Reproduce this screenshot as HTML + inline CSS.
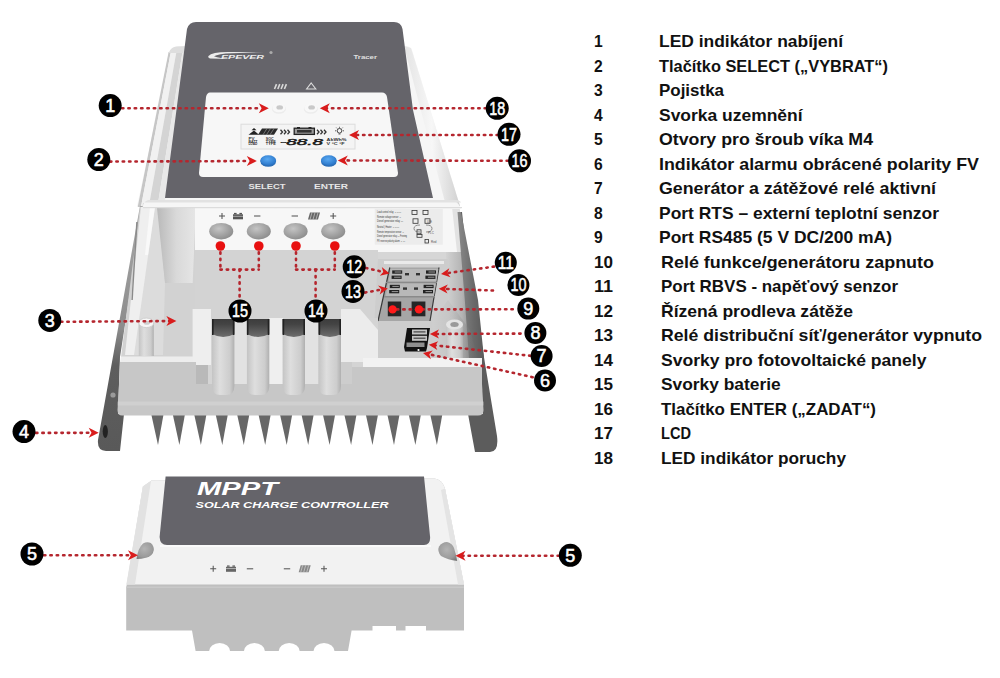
<!DOCTYPE html>
<html><head><meta charset="utf-8"><style>
html,body{margin:0;padding:0;background:#fff;width:1000px;height:678px;overflow:hidden}
svg{display:block}
text{font-family:"Liberation Sans",sans-serif}
.li{font-family:"Liberation Sans",sans-serif;font-weight:bold;font-size:17px;fill:#111}
</style></head><body>
<svg width="1000" height="678" viewBox="0 0 1000 678">
<defs>
<linearGradient id="gShellL" x1="0" y1="0" x2="1" y2="0">
 <stop offset="0" stop-color="#d0d0d0"/><stop offset="0.3" stop-color="#e6e6e6"/><stop offset="0.6" stop-color="#d2d2d2"/><stop offset="0.85" stop-color="#efefef"/><stop offset="1" stop-color="#e2e2e2"/></linearGradient>
<linearGradient id="gShellR" x1="0" y1="0" x2="1" y2="0">
 <stop offset="0" stop-color="#e4e4e4"/><stop offset="0.5" stop-color="#f7f7f7"/><stop offset="1" stop-color="#d0d0d0"/></linearGradient>
<linearGradient id="gBack" x1="0" y1="0" x2="1" y2="0">
 <stop offset="0" stop-color="#b9b9b9"/><stop offset="0.5" stop-color="#d9d9d9"/><stop offset="1" stop-color="#e6e6e6"/></linearGradient>
<linearGradient id="gBrkL" x1="0" y1="0" x2="0" y2="1">
 <stop offset="0" stop-color="#a8a8a8"/><stop offset="0.5" stop-color="#8c8c8c"/><stop offset="0.65" stop-color="#5e5e5e"/><stop offset="1" stop-color="#595959"/></linearGradient>
<radialGradient id="gHole" cx="0.4" cy="0.35" r="0.7">
 <stop offset="0" stop-color="#c4c4c4"/><stop offset="1" stop-color="#8a8a8a"/></radialGradient>
<linearGradient id="gTube" x1="0" y1="0" x2="1" y2="0">
 <stop offset="0" stop-color="#c4c4c4"/><stop offset="0.35" stop-color="#dedede"/><stop offset="0.8" stop-color="#cdcdcd"/><stop offset="1" stop-color="#b0b0b0"/></linearGradient>
<linearGradient id="gDarkStrip" x1="0" y1="0" x2="1" y2="0">
 <stop offset="0" stop-color="#8a8a8a"/><stop offset="0.6" stop-color="#6a6a6a"/><stop offset="1" stop-color="#5a5a5a"/></linearGradient>
<linearGradient id="gOpen" x1="0" y1="0" x2="0" y2="1">
 <stop offset="0" stop-color="#3c3c3c"/><stop offset="0.3" stop-color="#444"/><stop offset="1" stop-color="#6e6e6e"/></linearGradient>
<linearGradient id="gRside" x1="0" y1="0" x2="1" y2="0">
 <stop offset="0" stop-color="#d2d2d2"/><stop offset="0.45" stop-color="#b4b4b4"/><stop offset="0.75" stop-color="#858585"/><stop offset="1" stop-color="#666"/></linearGradient>
<radialGradient id="gBtn" cx="0.45" cy="0.4" r="0.6">
 <stop offset="0" stop-color="#59a9f2"/><stop offset="1" stop-color="#2a76c9"/></radialGradient>
<radialGradient id="gLed" cx="0.5" cy="0.5" r="0.6">
 <stop offset="0" stop-color="#cfcfcf"/><stop offset="0.5" stop-color="#f2f2f2"/><stop offset="1" stop-color="#e2e2e2"/></radialGradient>
<linearGradient id="gCovL" x1="0" y1="0" x2="1" y2="0">
 <stop offset="0" stop-color="#d4d4d4"/><stop offset="1" stop-color="#eeeeee"/></linearGradient>
<radialGradient id="gCovHole" cx="0.45" cy="0.4" r="0.7">
 <stop offset="0" stop-color="#b4b4b4"/><stop offset="0.7" stop-color="#9a9a9a"/><stop offset="1" stop-color="#777"/></radialGradient>
</defs>
<path d="M170,52 Q172,46 178,46 L406,46 Q410,46 412,50 L460,206 L137,206 Z" fill="#f6f6f6"/>
<polygon points="168.6,52 170.8,52 140.9,207 137.7,207" fill="#c6c6c6"/>
<polygon points="170.8,52 176.4,52 148.7,207 140.9,207" fill="#f1f1f1"/>
<polygon points="176.4,52 182.5,52 157.4,207 148.7,207" fill="#d4d4d4"/>
<polygon points="182.5,52 187.1,52 164.0,207 157.4,207" fill="#e8e8e8"/>
<path d="M168.6,53 Q171,46.5 177,46.5 L188,46 L187.6,53 Z" fill="#dedede"/>
<polygon points="404,46 411,48 460,206 446,206" fill="url(#gShellR)"/>
<path d="M140,206 L98,440 Q97,451 106,451 L120,451 L124,414 L118,414 L120,357 L143.5,206 Z" fill="url(#gBrkL)"/>
<path d="M460,212 L497,436 Q499,452 490,452 L475,452 L468,414 L483,414 L462,212 Z" fill="#5c5c5c"/>
<ellipse cx="105.3" cy="431.5" rx="2.6" ry="6.5" fill="#222"/>
<ellipse cx="113" cy="395" rx="2.6" ry="2.6" fill="#9a9a9a"/>
<polygon points="151.2,414 163.6,414 158.0,445" fill="#676767"/>
<polygon points="172.7,414 185.0,414 179.4,445" fill="#676767"/>
<polygon points="194.1,414 206.5,414 200.9,445" fill="#676767"/>
<polygon points="215.6,414 227.9,414 222.3,445" fill="#676767"/>
<polygon points="237.0,414 249.4,414 243.8,445" fill="#676767"/>
<polygon points="258.4,414 270.8,414 265.2,445" fill="#676767"/>
<polygon points="279.9,414 292.3,414 286.7,445" fill="#676767"/>
<polygon points="301.4,414 313.8,414 308.2,445" fill="#676767"/>
<polygon points="322.8,414 335.2,414 329.6,445" fill="#676767"/>
<polygon points="344.2,414 356.6,414 351.1,445" fill="#676767"/>
<polygon points="365.7,414 378.1,414 372.5,445" fill="#676767"/>
<polygon points="387.2,414 399.6,414 394.0,445" fill="#676767"/>
<polygon points="408.6,414 421.0,414 415.4,445" fill="#676767"/>
<polygon points="430.1,414 442.4,414 436.9,445" fill="#676767"/>
<polygon points="143,203 459,204 483,414 118,414" fill="#d8d8d8"/>
<polygon points="140,207 196,207 196,357 121,357" fill="#d2d2d2"/>
<polygon points="155,207 158,207 165,283 163,355 133,355" fill="#dcdcdc"/>
<polygon points="157,208 195.8,208 192.7,283 165,283" fill="url(#gBack)"/>
<polygon points="141,207 155,207 134,355 125,355" fill="#efefef"/>
<polygon points="150,207 155,207 148,255 145,255" fill="#f9f9f9"/>
<polygon points="136.2,222 137.6,222 132.8,300 131.4,300" fill="#8a8a8a"/>
<rect x="138.8" y="323" width="15" height="33" fill="url(#gTube)"/>
<ellipse cx="146.3" cy="322.8" rx="7.5" ry="4.8" fill="#f6f6f6" stroke="#d0d0d0" stroke-width="1"/>
<ellipse cx="146.8" cy="322.8" rx="3.2" ry="2" fill="#cfcfcf"/>
<polygon points="195,207 458,207 463,252 195,252" fill="#f7f7f7"/>
<polygon points="452,207 458,207 463,252 457,252" fill="#e2e2e2"/>
<rect x="195" y="250" width="183" height="72" fill="#d3d3d3"/>
<polygon points="378,252 463,252 482,358 378,358" fill="#d6d6d6"/>
<polygon points="446,252 463,252 478,330 482,360 449,360" fill="url(#gRside)"/>
<polygon points="457.5,212 461,212 478,300 484,358 469,358 464.8,300" fill="url(#gDarkStrip)"/>
<polygon points="378,259 448,259 448,360 372,360" fill="#cdcdcd"/>
<rect x="384" y="261" width="60" height="3" fill="#eaeaea"/>
<polygon points="389.8,267.5 439,267.5 430,321 378,321" fill="#a6a6a6"/>
<path d="M389.8,267.5 L378,321 M439,267.5 L430,321" stroke="#3a3a3a" stroke-width="1.2"/>
<polygon points="390.5,268.9 438.4,268.9 436.4,281.7 388.6,281.7" fill="#b8b8b8"/>
<polygon points="388,283.2 436,283.2 434,296 385.8,296" fill="#b8b8b8"/>
<rect x="386" y="281.7" width="51" height="1.5" fill="#8a8a8a"/><rect x="384" y="296" width="51" height="1.5" fill="#8a8a8a"/>
<rect x="392.2" y="270.4" width="10" height="3.3" fill="#222"/><rect x="394.7" y="271.5" width="6.5" height="1" fill="#999"/>
<rect x="391.6" y="275.6" width="10" height="3.3" fill="#222"/><rect x="394.1" y="276.70000000000005" width="6.5" height="1" fill="#999"/>
<rect x="426" y="270.4" width="10" height="3.3" fill="#222"/><rect x="428.5" y="271.5" width="6.5" height="1" fill="#999"/>
<rect x="425.4" y="275.6" width="10" height="3.3" fill="#222"/><rect x="427.9" y="276.70000000000005" width="6.5" height="1" fill="#999"/>
<rect x="389.8" y="284.8" width="10" height="3.3" fill="#222"/><rect x="392.3" y="285.90000000000003" width="6.5" height="1" fill="#999"/>
<rect x="389.2" y="290" width="10" height="3.3" fill="#222"/><rect x="391.7" y="291.1" width="6.5" height="1" fill="#999"/>
<rect x="423.6" y="284.8" width="10" height="3.3" fill="#222"/><rect x="426.1" y="285.90000000000003" width="6.5" height="1" fill="#999"/>
<rect x="423" y="290" width="10" height="3.3" fill="#222"/><rect x="425.5" y="291.1" width="6.5" height="1" fill="#999"/>
<rect x="405" y="273" width="4" height="2.4" fill="#333"/>
<rect x="416" y="273" width="4" height="2.4" fill="#333"/>
<rect x="403" y="287.4" width="4" height="2.4" fill="#333"/>
<rect x="414" y="287.4" width="4" height="2.4" fill="#333"/>
<rect x="387.8" y="301.5" width="13.4" height="14.8" fill="#262626"/>
<rect x="411.6" y="301.5" width="13.8" height="14.8" fill="#262626"/>
<path d="M407,328 L430,328 L427,348 L426,351.5 L405,351.5 L404,347 Z" fill="#111"/>
<rect x="412" y="329.5" width="15" height="5" fill="#c4c4c4"/><rect x="412" y="335.8" width="15" height="5" fill="#c4c4c4"/>
<rect x="413.5" y="331.3" width="12" height="1.2" fill="#444"/><rect x="413.5" y="337.6" width="12" height="1.2" fill="#444"/>
<rect x="406.5" y="342.5" width="18" height="4.5" fill="#8e8e8e"/>
<circle cx="418.5" cy="350" r="1.1" fill="#fff"/>
<polygon points="432,322 448,300 470,330 478,360 436,360" fill="url(#gRside)" opacity="0.35"/>
<rect x="446" y="325" width="17" height="38" fill="url(#gTube)"/>
<ellipse cx="454.5" cy="324.5" rx="8.5" ry="5" fill="#e4e4e4"/>
<ellipse cx="454.5" cy="324.5" rx="4.2" ry="2.5" fill="#9a9a9a"/>
<rect x="374.8" y="208.5" width="68" height="36.2" fill="#ececec"/>
<text x="377" y="213.2" font-size="3.4" fill="#333" textLength="24" lengthAdjust="spacingAndGlyphs">Load control relay → ——</text>
<rect x="412" y="210.5" width="5" height="4" fill="none" stroke="#333" stroke-width="0.8"/>
<rect x="423" y="210.5" width="5" height="4" fill="none" stroke="#333" stroke-width="0.8"/>
<text x="377" y="217.6" font-size="3.4" fill="#333" textLength="24" lengthAdjust="spacingAndGlyphs">Remote voltage sensor →</text>
<text x="377" y="222.0" font-size="3.4" fill="#333" textLength="26" lengthAdjust="spacingAndGlyphs">Diesel generator relay  —</text>
<rect x="413" y="218.8" width="5" height="4.5" fill="none" stroke="#333" stroke-width="0.8"/>
<rect x="425" y="218.8" width="5" height="4.5" fill="none" stroke="#333" stroke-width="0.8"/>
<text x="377" y="227.6" font-size="3.4" fill="#333" textLength="22" lengthAdjust="spacingAndGlyphs">Neutral | Heater → ——</text>
<text x="377" y="233.4" font-size="3.4" fill="#333" textLength="27" lengthAdjust="spacingAndGlyphs">Remote temperature sensor →</text>
<rect x="417" y="229.8" width="4" height="4" fill="none" stroke="#333" stroke-width="0.8"/>
<text x="377" y="237.4" font-size="3.4" fill="#333" textLength="30" lengthAdjust="spacingAndGlyphs">Diesel generator relay — Freeing</text>
<rect x="417" y="234.5" width="5" height="2.8" fill="none" stroke="#333" stroke-width="0.8"/>
<text x="377" y="242.4" font-size="3.4" fill="#333" textLength="28" lengthAdjust="spacingAndGlyphs">PV reverse polarity alarm → —</text>
<rect x="425" y="239.5" width="3.5" height="3.5" fill="none" stroke="#333" stroke-width="0.8"/>
<path d="M420,225 Q414,225 414,228.5 Q414,232 420,232 M426,225 Q432,225 432,228.5 Q432,232 426,232" fill="none" stroke="#666" stroke-width="0.7"/>
<text x="427" y="222.6" font-size="3" fill="#555">UIE</text><text x="428" y="233.6" font-size="3" fill="#555">PLC</text><text x="431" y="242.6" font-size="3" fill="#555">Red</text>
<rect x="195" y="318" width="183" height="70" fill="#d4d4d4"/>
<rect x="192.6" y="309" width="18.4" height="56" fill="#eeeeee"/>
<polygon points="192.6,365 208,365 208,384 196,384" fill="#b9b9b9"/>
<rect x="234" y="318" width="13" height="66" fill="#e2e2e2"/>
<rect x="269" y="318" width="14" height="66" fill="#efefef"/>
<rect x="305" y="318" width="13" height="66" fill="#e2e2e2"/>
<polygon points="341,309 360,309 378,330 378,362 352,362 352,384 341,384" fill="#ececec"/>
<polygon points="341,362 352,362 352,384 341,384" fill="#cdcdcd"/>
<polygon points="121,356.5 193,356.5 193,362.5 120,362.5" fill="#ededed"/>
<polygon points="120,362 196,362 196,384 119,384" fill="#c7c7c7"/>
<polygon points="363,358 482,358 482,367 363,367" fill="#f2f2f2"/>
<polygon points="352,367 482,367 482,384 352,384" fill="#c7c7c7"/>
<path d="M119,384 L482,384 L483.5,410 Q483.5,415.5 478,415.5 L122,415.5 Q117.5,415.5 117.5,410 Z" fill="#c7c7c7"/>
<rect x="117.8" y="401.5" width="365.5" height="4" fill="#d0d0d0"/>
<path d="M212.0,319 L234.39999999999998,319 L234.39999999999998,386 Q234.39999999999998,395 226.2,395 L220.2,395 Q212.0,395 212.0,386 Z" fill="url(#gTube)"/>
<path d="M212.0,319 L234.39999999999998,319 L234.39999999999998,334 Q223.2,340 212.0,334 Z" fill="url(#gOpen)"/>
<rect x="212.0" y="319" width="1.6" height="16" fill="#222"/><rect x="232.79999999999998" y="319" width="1.6" height="16" fill="#222"/>
<path d="M246.90000000000003,319 L269.3,319 L269.3,386 Q269.3,395 261.1,395 L255.10000000000002,395 Q246.90000000000003,395 246.90000000000003,386 Z" fill="url(#gTube)"/>
<path d="M246.90000000000003,319 L269.3,319 L269.3,334 Q258.1,340 246.90000000000003,334 Z" fill="url(#gOpen)"/>
<rect x="246.90000000000003" y="319" width="1.6" height="16" fill="#222"/><rect x="267.70000000000005" y="319" width="1.6" height="16" fill="#222"/>
<path d="M282.6,319 L305.0,319 L305.0,386 Q305.0,395 296.8,395 L290.8,395 Q282.6,395 282.6,386 Z" fill="url(#gTube)"/>
<path d="M282.6,319 L305.0,319 L305.0,334 Q293.8,340 282.6,334 Z" fill="url(#gOpen)"/>
<rect x="282.6" y="319" width="1.6" height="16" fill="#222"/><rect x="303.40000000000003" y="319" width="1.6" height="16" fill="#222"/>
<path d="M318.6,319 L341.0,319 L341.0,386 Q341.0,395 332.8,395 L326.8,395 Q318.6,395 318.6,386 Z" fill="url(#gTube)"/>
<path d="M318.6,319 L341.0,319 L341.0,334 Q329.8,340 318.6,334 Z" fill="url(#gOpen)"/>
<rect x="318.6" y="319" width="1.6" height="16" fill="#222"/><rect x="339.40000000000003" y="319" width="1.6" height="16" fill="#222"/>
<path d="M148,200 L452,200 Q458,201 461,209 L143,207.5 Q143,201 148,200 Z" fill="#f6f6f6"/>
<path d="M148,200 L456,200 Q460,200.5 461,202.5 L144.5,202.5 Q145.5,200.5 148,200 Z" fill="#e2e2e2"/>
<rect x="143" y="207" width="319" height="1.2" fill="#dcdcdc"/>
<ellipse cx="221.2" cy="231.2" rx="12" ry="8.3" fill="url(#gHole)"/>
<ellipse cx="258.8" cy="231.2" rx="12" ry="8.3" fill="url(#gHole)"/>
<ellipse cx="295.6" cy="231.2" rx="12" ry="8.3" fill="url(#gHole)"/>
<ellipse cx="333.2" cy="231.2" rx="12" ry="8.3" fill="url(#gHole)"/>
<path d="M219,216 H225 M222,213 V219" stroke="#555" stroke-width="1.05"/>
<rect x="233" y="214.3" width="10" height="5" fill="#555"/><rect x="234" y="212.9" width="2.6" height="1.4" fill="#555"/><rect x="239.4" y="212.9" width="2.6" height="1.4" fill="#555"/><rect x="233" y="215.9" width="10" height="0.6" fill="#ddd"/>
<path d="M254.0,216 H260.4" stroke="#555" stroke-width="1.05"/>
<path d="M291.6,216 H298.0" stroke="#555" stroke-width="1.05"/>
<polygon points="310,212.5 320,212.5 318,219.5 308,219.5" fill="#666"/><path d="M312,212.5 L310,219.5 M315,212.5 L313,219.5 M318,212.5 L316,219.5" stroke="#ddd" stroke-width="0.6"/>
<path d="M330.2,216 H336.2 M333.2,213 V219" stroke="#555" stroke-width="1.05"/>
<path d="M196,22 L394,22 Q401,22 402.5,29 L413,110 L433,198 L165,198 L187,29 Q189,22 196,22 Z" fill="#65646a"/>
<path d="M208.5,56 Q212,51.5 232,52 L264,52.3 L232,53.2 Q218,53.6 214,56.3 Q219,58.6 232,59 L210,58.6 Q207.5,57.5 208.5,56 Z" fill="#ececec"/>
<text x="221" y="58.6" font-weight="bold" font-style="italic" font-size="5" fill="#ececec" textLength="43" lengthAdjust="spacingAndGlyphs">EPEVER</text>
<circle cx="271" cy="52.5" r="1.6" fill="#aaa"/>
<text x="353.5" y="59" font-weight="bold" font-size="6" fill="#e0e0e0" textLength="23.5" lengthAdjust="spacingAndGlyphs">Tracer</text>
<path d="M274.5,89 L276.5,84.1 M277.8,89 L279.8,84.1 M281.1,89 L283.1,84.1 M284.4,89 L286.4,84.1" stroke="#d8d8d8" stroke-width="1.6"/>
<path d="M311.2,83 L315.8,89 L306.6,89 Z" fill="none" stroke="#dcdcdc" stroke-width="1.1"/>
<path d="M210,92.5 L382,92.5 Q386,92.5 387,97 L398,173 Q398,177 394,177 L203,177 Q199,177 199,173 L206,97 Q207,92.5 210,92.5 Z" fill="#f7f7f7"/>
<ellipse cx="278.9" cy="109" rx="7" ry="4.8" fill="#ececec"/>
<ellipse cx="278.9" cy="108" rx="6.5" ry="4.2" fill="#f8f8f8"/>
<ellipse cx="279.7" cy="107.4" rx="3.3" ry="2.2" fill="#c9c9c9"/>
<ellipse cx="310.8" cy="109" rx="7" ry="4.8" fill="#ececec"/>
<ellipse cx="310.8" cy="108" rx="6.5" ry="4.2" fill="#f8f8f8"/>
<ellipse cx="311.6" cy="107.4" rx="3.3" ry="2.2" fill="#c9c9c9"/>
<rect x="241" y="124.2" width="114" height="24.8" fill="#f4f4f4" stroke="#dcdcdc" stroke-width="1"/>
<polygon points="248.5,134.7 254,130.6 259,134.7" fill="#222"/><polygon points="251.5,130.2 254,128 256.5,130.2" fill="#222"/>
<polygon points="262,128.5 278,128.5 274,134.7 258,134.7" fill="#2a2a2a"/>
<path d="M263,134.7 L267,128.5 M266.5,134.7 L270.5,128.5 M270,134.7 L274,128.5" stroke="#bbb" stroke-width="0.5"/>
<path d="M280.5,129.8 L282.5,132 L280.5,134.2 M284.0,129.8 L286.0,132 L284.0,134.2 M287.5,129.8 L289.5,132 L287.5,134.2" fill="none" stroke="#333" stroke-width="1.3"/>
<path d="M317,129.8 L319,132 L317,134.2 M320.5,129.8 L322.5,132 L320.5,134.2 M324,129.8 L326,132 L324,134.2" fill="none" stroke="#333" stroke-width="1.3"/>
<rect x="294.2" y="128.2" width="20.2" height="6.2" fill="#9a9a9a" stroke="#222" stroke-width="1.3"/>
<rect x="297" y="130" width="14.6" height="2.6" fill="#333"/>
<rect x="297" y="127" width="3" height="1.5" fill="#222"/><rect x="308.5" y="127" width="3" height="1.5" fill="#222"/>
<circle cx="339.5" cy="130.8" r="2.3" fill="none" stroke="#333" stroke-width="0.9"/>
<path d="M339.5,126.8 V127.8 M335,130.8 H336.2 M342.8,130.8 H344 M336.3,127.6 L337.1,128.4 M342.7,127.6 L341.9,128.4 M338.5,134 H340.5" stroke="#333" stroke-width="0.8"/>
<text x="248.4" y="140.3" font-size="3" font-weight="bold" fill="#333" textLength="6" lengthAdjust="spacingAndGlyphs">PV</text>
<text x="248.4" y="142.6" font-size="3" font-weight="bold" fill="#333" textLength="9" lengthAdjust="spacingAndGlyphs">BATT</text>
<text x="248.4" y="144.9" font-size="3" font-weight="bold" fill="#333" textLength="9" lengthAdjust="spacingAndGlyphs">LOAD</text>
<text x="265.8" y="140.3" font-size="3" font-weight="bold" fill="#333" textLength="8" lengthAdjust="spacingAndGlyphs">SOC</text>
<text x="265.8" y="142.6" font-size="3" font-weight="bold" fill="#333" textLength="10" lengthAdjust="spacingAndGlyphs">TYPE</text>
<text x="265.8" y="144.9" font-size="3" font-weight="bold" fill="#333" textLength="10" lengthAdjust="spacingAndGlyphs">TYPE</text>
<text x="280" y="145" font-style="italic" font-size="9.2" fill="#1a1a1a" stroke="#1a1a1a" stroke-width="0.45" textLength="43" lengthAdjust="spacingAndGlyphs">-88.8</text>
<text x="326.6" y="141.3" font-size="3.4" font-weight="bold" fill="#333" textLength="20" lengthAdjust="spacingAndGlyphs">AkWh%</text>
<text x="326.6" y="145" font-size="3.4" font-weight="bold" fill="#333" textLength="18" lengthAdjust="spacingAndGlyphs">V °C °F</text>
<ellipse cx="268.2" cy="161.4" rx="7.8" ry="5.4" fill="#2c6fb8"/>
<ellipse cx="268.2" cy="160.2" rx="7.8" ry="5" fill="url(#gBtn)"/>
<ellipse cx="328.8" cy="161.4" rx="7.8" ry="5.4" fill="#2c6fb8"/>
<ellipse cx="328.8" cy="160.2" rx="7.8" ry="5" fill="url(#gBtn)"/>
<text x="267" y="188.5" text-anchor="middle" font-weight="bold" font-size="6.5" fill="#e6e6e6" textLength="37" lengthAdjust="spacingAndGlyphs">SELECT</text>
<text x="331" y="188.5" text-anchor="middle" font-weight="bold" font-size="6.5" fill="#e6e6e6" textLength="34" lengthAdjust="spacingAndGlyphs">ENTER</text>
<path d="M152,480.3 L434.5,478.5 Q442,479.5 445,488.6 L464,584.5 L464,630.5 L426,630.5 L426,626 L405.5,626 L405.5,630.5 L396,630.5 L396,626 L372.5,626 L372.5,630.5 L351.6,630.5 L348,651 L195.6,651 L192,630.5 L126.2,630.5 L126.2,588 L142.9,486.5 Z" fill="#bfbfbf"/>
<path d="M152,480.3 L434.5,478.5 Q442,479.5 445,488.6 L464,584.5 L126.4,584.5 L142.9,486.5 Z" fill="#f2f2f2"/>
<polygon points="142.9,486.5 152,480.3 151,481 135,584.5 126.4,584.5" fill="#e2e2e2"/>
<polygon points="445,488.6 464,584.5 458,584.5 441,490" fill="#e4e4e4"/>
<rect x="126.3" y="586.5" width="337.6" height="1.5" fill="#c9c9c9"/>
<ellipse cx="219.6" cy="651.5" rx="10.6" ry="8.6" fill="#fff"/>
<ellipse cx="254.4" cy="651.5" rx="10.6" ry="8.6" fill="#fff"/>
<ellipse cx="289.2" cy="651.5" rx="10.6" ry="8.6" fill="#fff"/>
<ellipse cx="324" cy="651.5" rx="10.6" ry="8.6" fill="#fff"/>
<path d="M165.6,476.5 L424,476.5 L430,536 Q431,545 424,545 L167,545 Q160,545 159.6,537 Z" fill="#65646a"/>
<rect x="160" y="545" width="271" height="2" fill="#fafafa"/>
<text x="197" y="494.5" font-weight="bold" font-style="italic" font-size="18" fill="#fff" textLength="81" lengthAdjust="spacingAndGlyphs">MPPT</text>
<text x="195.5" y="508" font-weight="bold" font-style="italic" font-size="9.4" fill="#fff" textLength="193" lengthAdjust="spacingAndGlyphs">SOLAR CHARGE CONTROLLER</text>
<path d="M136.5,559 Q138,548 143,543.5 Q147,541.2 150.8,543 Q154,546 153.8,550 Q153,555.5 147,557.5 Q141,559 136.5,559 Z" fill="url(#gCovHole)"/>
<path d="M457.2,561 Q448,560 441,556 Q437,551 439,546.5 Q442,542 447,542 Q452,543 454,548 Q456,554 457.2,561 Z" fill="url(#gCovHole)"/>
<path d="M210.2,568.8 H216.2 M213.2,565.8 V571.8" stroke="#555" stroke-width="1.05"/>
<rect x="226" y="566.8" width="10" height="5" fill="#666"/><rect x="227" y="565.4" width="2.6" height="1.4" fill="#666"/><rect x="232.4" y="565.4" width="2.6" height="1.4" fill="#666"/><rect x="226" y="568.4" width="10" height="0.6" fill="#ddd"/>
<path d="M246.8,568.8 H253.2" stroke="#555" stroke-width="1.05"/>
<path d="M283.8,568.8 H290.2" stroke="#555" stroke-width="1.05"/>
<polygon points="300.7,565.3 310.7,565.3 308.7,572.3 298.7,572.3" fill="#888"/><path d="M302.7,565.3 L300.7,572.3 M305.7,565.3 L303.7,572.3 M308.7,565.3 L306.7,572.3" stroke="#ddd" stroke-width="0.6"/>
<path d="M321,568.8 H327 M324,565.8 V571.8" stroke="#555" stroke-width="1.05"/>
<line x1="122" y1="108.2" x2="261.6" y2="108.2" stroke="#b5262e" stroke-width="2.6" stroke-linecap="round" stroke-dasharray="1.4,4.96"/>
<polygon points="268.8,108.2 258.8,113.2 261.6,108.2 258.8,103.2" fill="#d91c1c"/>
<line x1="486" y1="108.3" x2="326.99999869671217" y2="108.20433212917973" stroke="#b5262e" stroke-width="2.6" stroke-linecap="round" stroke-dasharray="1.4,4.96"/>
<polygon points="319.8,108.2 329.8,103.2 327.0,108.2 329.8,113.2" fill="#d91c1c"/>
<line x1="498" y1="135" x2="356.2" y2="135.0" stroke="#b5262e" stroke-width="2.6" stroke-linecap="round" stroke-dasharray="1.4,4.96"/>
<polygon points="349.0,135.0 359.0,130.0 356.2,135.0 359.0,140.0" fill="#d91c1c"/>
<line x1="110" y1="161.6" x2="249.60006013778792" y2="161.02942754712075" stroke="#b5262e" stroke-width="2.6" stroke-linecap="round" stroke-dasharray="1.4,4.96"/>
<polygon points="256.8,161.0 246.8,166.0 249.6,161.0 246.8,156.0" fill="#d91c1c"/>
<line x1="508" y1="160.8" x2="344.9999801160999" y2="160.41692122236452" stroke="#b5262e" stroke-width="2.6" stroke-linecap="round" stroke-dasharray="1.4,4.96"/>
<polygon points="337.8,160.4 347.8,155.4 345.0,160.4 347.8,165.4" fill="#d91c1c"/>
<line x1="61" y1="321.8" x2="169.2001730036253" y2="321.0499121455555" stroke="#b5262e" stroke-width="2.6" stroke-linecap="round" stroke-dasharray="1.4,4.96"/>
<polygon points="176.4,321.0 166.4,326.1 169.2,321.0 166.4,316.1" fill="#d91c1c"/>
<line x1="36" y1="432.9" x2="91.50000915728205" y2="432.8114832389836" stroke="#b5262e" stroke-width="2.6" stroke-linecap="round" stroke-dasharray="1.4,4.96"/>
<polygon points="98.7,432.8 88.7,437.8 91.5,432.8 88.7,427.8" fill="#d91c1c"/>
<line x1="44" y1="555.2" x2="130.8" y2="555.2" stroke="#b5262e" stroke-width="2.6" stroke-linecap="round" stroke-dasharray="1.4,4.96"/>
<polygon points="138.0,555.2 128.0,560.2 130.8,555.2 128.0,550.2" fill="#d91c1c"/>
<line x1="559" y1="555.7" x2="462.7" y2="555.7" stroke="#b5262e" stroke-width="2.6" stroke-linecap="round" stroke-dasharray="1.4,4.96"/>
<polygon points="455.5,555.7 465.5,550.7 462.7,555.7 465.5,560.7" fill="#d91c1c"/>
<line x1="366" y1="268" x2="383.28324928225675" y2="271.9546417849231" stroke="#b5262e" stroke-width="2.6" stroke-linecap="round" stroke-dasharray="1.4,4.96"/>
<polygon points="389.6,273.4 379.8,275.8 383.3,272.0 381.8,267.0" fill="#d91c1c"/>
<line x1="365" y1="292.6" x2="381.42722333794285" y2="289.5739325430105" stroke="#b5262e" stroke-width="2.6" stroke-linecap="round" stroke-dasharray="1.4,4.96"/>
<polygon points="387.8,288.4 379.8,294.5 381.4,289.6 378.1,285.6" fill="#d91c1c"/>
<line x1="494" y1="266.6" x2="447.41774661199946" y2="273.10393726549444" stroke="#b5262e" stroke-width="2.6" stroke-linecap="round" stroke-dasharray="1.4,4.96"/>
<polygon points="441.0,274.0 449.3,268.3 447.4,273.1 450.5,277.2" fill="#d91c1c"/>
<line x1="493" y1="290.5" x2="445.17644260068346" y2="288.914688704995" stroke="#b5262e" stroke-width="2.6" stroke-linecap="round" stroke-dasharray="1.4,4.96"/>
<polygon points="438.7,288.7 447.8,284.5 445.2,288.9 447.5,293.5" fill="#d91c1c"/>
<line x1="520.6" y1="333.6" x2="436.3799369849792" y2="333.9714225491291" stroke="#b5262e" stroke-width="2.6" stroke-linecap="round" stroke-dasharray="1.4,4.96"/>
<polygon points="429.9,334.0 438.9,329.5 436.4,334.0 438.9,338.5" fill="#d91c1c"/>
<line x1="530.5" y1="355.8" x2="435.2417448483335" y2="345.4030812961308" stroke="#b5262e" stroke-width="2.6" stroke-linecap="round" stroke-dasharray="1.4,4.96"/>
<polygon points="428.8,344.7 438.2,341.2 435.2,345.4 437.3,350.1" fill="#d91c1c"/>
<line x1="532.7" y1="377.2" x2="429.32664060085347" y2="354.30143451778247" stroke="#b5262e" stroke-width="2.6" stroke-linecap="round" stroke-dasharray="1.4,4.96"/>
<polygon points="423.0,352.9 432.8,350.5 429.3,354.3 430.8,359.2" fill="#d91c1c"/>
<line x1="512.8" y1="309.3" x2="392.6" y2="309.4" stroke="#b5262e" stroke-width="2.6" stroke-linecap="round" stroke-dasharray="1.4,4.96"/>
<circle cx="392.6" cy="309.4" r="4.2" fill="#ff1a1a"/><circle cx="419" cy="309.4" r="4.2" fill="#ff1a1a"/>
<line x1="220.4" y1="246" x2="220.4" y2="269.6" stroke="#b5262e" stroke-width="2.6" stroke-linecap="round" stroke-dasharray="1.4,4.96"/>
<line x1="258.8" y1="246" x2="258.8" y2="269.6" stroke="#b5262e" stroke-width="2.6" stroke-linecap="round" stroke-dasharray="1.4,4.96"/>
<line x1="220.4" y1="269.6" x2="258.8" y2="269.6" stroke="#b5262e" stroke-width="2.6" stroke-linecap="round" stroke-dasharray="1.4,4.96"/>
<line x1="239.6" y1="269.6" x2="239.6" y2="300" stroke="#b5262e" stroke-width="2.6" stroke-linecap="round" stroke-dasharray="1.4,4.96"/>
<circle cx="220.4" cy="246" r="4.8" fill="#e81010"/><circle cx="258.8" cy="246" r="4.8" fill="#e81010"/>
<line x1="296" y1="246" x2="296" y2="269.6" stroke="#b5262e" stroke-width="2.6" stroke-linecap="round" stroke-dasharray="1.4,4.96"/>
<line x1="334.8" y1="246" x2="334.8" y2="269.6" stroke="#b5262e" stroke-width="2.6" stroke-linecap="round" stroke-dasharray="1.4,4.96"/>
<line x1="296" y1="269.6" x2="334.8" y2="269.6" stroke="#b5262e" stroke-width="2.6" stroke-linecap="round" stroke-dasharray="1.4,4.96"/>
<line x1="315.6" y1="269.6" x2="315.6" y2="300" stroke="#b5262e" stroke-width="2.6" stroke-linecap="round" stroke-dasharray="1.4,4.96"/>
<circle cx="296" cy="246" r="4.8" fill="#e81010"/><circle cx="334.8" cy="246" r="4.8" fill="#e81010"/>
<circle cx="110.2" cy="105.6" r="11.5" fill="#000"/>
<text x="110.2" y="111.8" text-anchor="middle" font-family="Liberation Serif" font-size="18" fill="#fff" stroke="#fff" stroke-width="0.55">1</text>
<circle cx="497.2" cy="108.3" r="11.5" fill="#000"/>
<text x="497.2" y="114.5" text-anchor="middle" font-family="Liberation Serif" font-size="18" fill="#fff" stroke="#fff" stroke-width="0.55" textLength="16" lengthAdjust="spacingAndGlyphs">18</text>
<circle cx="509" cy="134.3" r="11.5" fill="#000"/>
<text x="509" y="140.5" text-anchor="middle" font-family="Liberation Serif" font-size="18" fill="#fff" stroke="#fff" stroke-width="0.55" textLength="16" lengthAdjust="spacingAndGlyphs">17</text>
<circle cx="98.8" cy="159.6" r="11.5" fill="#000"/>
<text x="98.8" y="165.79999999999998" text-anchor="middle" font-family="Liberation Serif" font-size="18" fill="#fff" stroke="#fff" stroke-width="0.55">2</text>
<circle cx="519.5" cy="160.8" r="11.5" fill="#000"/>
<text x="519.5" y="167.0" text-anchor="middle" font-family="Liberation Serif" font-size="18" fill="#fff" stroke="#fff" stroke-width="0.55" textLength="16" lengthAdjust="spacingAndGlyphs">16</text>
<circle cx="49.8" cy="320.4" r="11.5" fill="#000"/>
<text x="49.8" y="326.59999999999997" text-anchor="middle" font-family="Liberation Serif" font-size="18" fill="#fff" stroke="#fff" stroke-width="0.55">3</text>
<circle cx="24" cy="431.6" r="11.5" fill="#000"/>
<text x="24" y="437.8" text-anchor="middle" font-family="Liberation Serif" font-size="18" fill="#fff" stroke="#fff" stroke-width="0.55">4</text>
<circle cx="32" cy="554" r="11.5" fill="#000"/>
<text x="32" y="560.2" text-anchor="middle" font-family="Liberation Serif" font-size="18" fill="#fff" stroke="#fff" stroke-width="0.55">5</text>
<circle cx="570.3" cy="555.3" r="11.5" fill="#000"/>
<text x="570.3" y="561.5" text-anchor="middle" font-family="Liberation Serif" font-size="18" fill="#fff" stroke="#fff" stroke-width="0.55">5</text>
<circle cx="240" cy="311" r="11.5" fill="#000"/>
<text x="240" y="317.2" text-anchor="middle" font-family="Liberation Serif" font-size="18" fill="#fff" stroke="#fff" stroke-width="0.55" textLength="16" lengthAdjust="spacingAndGlyphs">15</text>
<circle cx="316" cy="311" r="11.5" fill="#000"/>
<text x="316" y="317.2" text-anchor="middle" font-family="Liberation Serif" font-size="18" fill="#fff" stroke="#fff" stroke-width="0.55" textLength="16" lengthAdjust="spacingAndGlyphs">14</text>
<circle cx="354.2" cy="266.8" r="11.5" fill="#000"/>
<text x="354.2" y="273.0" text-anchor="middle" font-family="Liberation Serif" font-size="18" fill="#fff" stroke="#fff" stroke-width="0.55" textLength="16" lengthAdjust="spacingAndGlyphs">12</text>
<circle cx="353" cy="291.4" r="11.5" fill="#000"/>
<text x="353" y="297.59999999999997" text-anchor="middle" font-family="Liberation Serif" font-size="18" fill="#fff" stroke="#fff" stroke-width="0.55" textLength="16" lengthAdjust="spacingAndGlyphs">13</text>
<circle cx="505.8" cy="262.8" r="11" fill="#000"/>
<text x="505.8" y="269.0" text-anchor="middle" font-family="Liberation Serif" font-size="18" fill="#fff" stroke="#fff" stroke-width="0.55" textLength="16" lengthAdjust="spacingAndGlyphs">11</text>
<circle cx="518.4" cy="285" r="11" fill="#000"/>
<text x="518.4" y="291.2" text-anchor="middle" font-family="Liberation Serif" font-size="18" fill="#fff" stroke="#fff" stroke-width="0.55" textLength="16" lengthAdjust="spacingAndGlyphs">10</text>
<circle cx="528.3" cy="308.6" r="11" fill="#000"/>
<text x="528.3" y="314.8" text-anchor="middle" font-family="Liberation Serif" font-size="18" fill="#fff" stroke="#fff" stroke-width="0.55">9</text>
<circle cx="535.4" cy="333" r="11" fill="#000"/>
<text x="535.4" y="339.2" text-anchor="middle" font-family="Liberation Serif" font-size="18" fill="#fff" stroke="#fff" stroke-width="0.55">8</text>
<circle cx="541.6" cy="356" r="11" fill="#000"/>
<text x="541.6" y="362.2" text-anchor="middle" font-family="Liberation Serif" font-size="18" fill="#fff" stroke="#fff" stroke-width="0.55">7</text>
<circle cx="545" cy="380.5" r="11" fill="#000"/>
<text x="545" y="386.7" text-anchor="middle" font-family="Liberation Serif" font-size="18" fill="#fff" stroke="#fff" stroke-width="0.55">6</text>
<text class="li" x="594" y="47.0" textLength="8.7" lengthAdjust="spacingAndGlyphs">1</text>
<text class="li" x="659" y="47.0" textLength="184.0" lengthAdjust="spacingAndGlyphs">LED indikátor nabíjení</text>
<text class="li" x="594" y="71.5" textLength="8.7" lengthAdjust="spacingAndGlyphs">2</text>
<text class="li" x="659" y="71.5" textLength="229.0" lengthAdjust="spacingAndGlyphs">Tlačítko SELECT („VYBRAT“)</text>
<text class="li" x="594" y="96.0" textLength="8.7" lengthAdjust="spacingAndGlyphs">3</text>
<text class="li" x="659" y="96.0" textLength="65.0" lengthAdjust="spacingAndGlyphs">Pojistka</text>
<text class="li" x="594" y="120.5" textLength="8.7" lengthAdjust="spacingAndGlyphs">4</text>
<text class="li" x="659" y="120.5" textLength="143.6" lengthAdjust="spacingAndGlyphs">Svorka uzemnění</text>
<text class="li" x="594" y="145.0" textLength="8.7" lengthAdjust="spacingAndGlyphs">5</text>
<text class="li" x="659" y="145.0" textLength="214.0" lengthAdjust="spacingAndGlyphs">Otvory pro šroub víka M4</text>
<text class="li" x="594" y="169.5" textLength="8.7" lengthAdjust="spacingAndGlyphs">6</text>
<text class="li" x="659" y="169.5" textLength="320.0" lengthAdjust="spacingAndGlyphs">Indikátor alarmu obrácené polarity FV</text>
<text class="li" x="594" y="194.0" textLength="8.7" lengthAdjust="spacingAndGlyphs">7</text>
<text class="li" x="659" y="194.0" textLength="277.0" lengthAdjust="spacingAndGlyphs">Generátor a zátěžové relé aktivní</text>
<text class="li" x="594" y="218.5" textLength="8.7" lengthAdjust="spacingAndGlyphs">8</text>
<text class="li" x="659" y="218.5" textLength="280.0" lengthAdjust="spacingAndGlyphs">Port RTS – externí teplotní senzor</text>
<text class="li" x="594" y="243.0" textLength="8.7" lengthAdjust="spacingAndGlyphs">9</text>
<text class="li" x="659" y="243.0" textLength="233.0" lengthAdjust="spacingAndGlyphs">Port RS485 (5 V DC/200 mA)</text>
<text class="li" x="594" y="267.5" textLength="19" lengthAdjust="spacingAndGlyphs">10</text>
<text class="li" x="661" y="267.5" textLength="273.0" lengthAdjust="spacingAndGlyphs">Relé funkce/generátoru zapnuto</text>
<text class="li" x="594" y="292.0" textLength="19" lengthAdjust="spacingAndGlyphs">11</text>
<text class="li" x="661" y="292.0" textLength="237.0" lengthAdjust="spacingAndGlyphs">Port RBVS - napěťový senzor</text>
<text class="li" x="594" y="316.5" textLength="19" lengthAdjust="spacingAndGlyphs">12</text>
<text class="li" x="661" y="316.5" textLength="192.0" lengthAdjust="spacingAndGlyphs">Řízená prodleva zátěže</text>
<text class="li" x="594" y="341.0" textLength="19" lengthAdjust="spacingAndGlyphs">13</text>
<text class="li" x="661" y="341.0" textLength="321.0" lengthAdjust="spacingAndGlyphs">Relé distribuční síť/generátor vypnuto</text>
<text class="li" x="594" y="365.5" textLength="19" lengthAdjust="spacingAndGlyphs">14</text>
<text class="li" x="661" y="365.5" textLength="265.5" lengthAdjust="spacingAndGlyphs">Svorky pro fotovoltaické panely</text>
<text class="li" x="594" y="390.0" textLength="19" lengthAdjust="spacingAndGlyphs">15</text>
<text class="li" x="661" y="390.0" textLength="119.7" lengthAdjust="spacingAndGlyphs">Svorky baterie</text>
<text class="li" x="594" y="414.5" textLength="19" lengthAdjust="spacingAndGlyphs">16</text>
<text class="li" x="661" y="414.5" textLength="215.0" lengthAdjust="spacingAndGlyphs">Tlačítko ENTER („ZADAT“)</text>
<text class="li" x="594" y="439.0" textLength="19" lengthAdjust="spacingAndGlyphs">17</text>
<text class="li" x="661" y="439.0" textLength="30.0" lengthAdjust="spacingAndGlyphs">LCD</text>
<text class="li" x="594" y="463.5" textLength="19" lengthAdjust="spacingAndGlyphs">18</text>
<text class="li" x="661" y="463.5" textLength="185.0" lengthAdjust="spacingAndGlyphs">LED indikátor poruchy</text>
</svg>
</body></html>
